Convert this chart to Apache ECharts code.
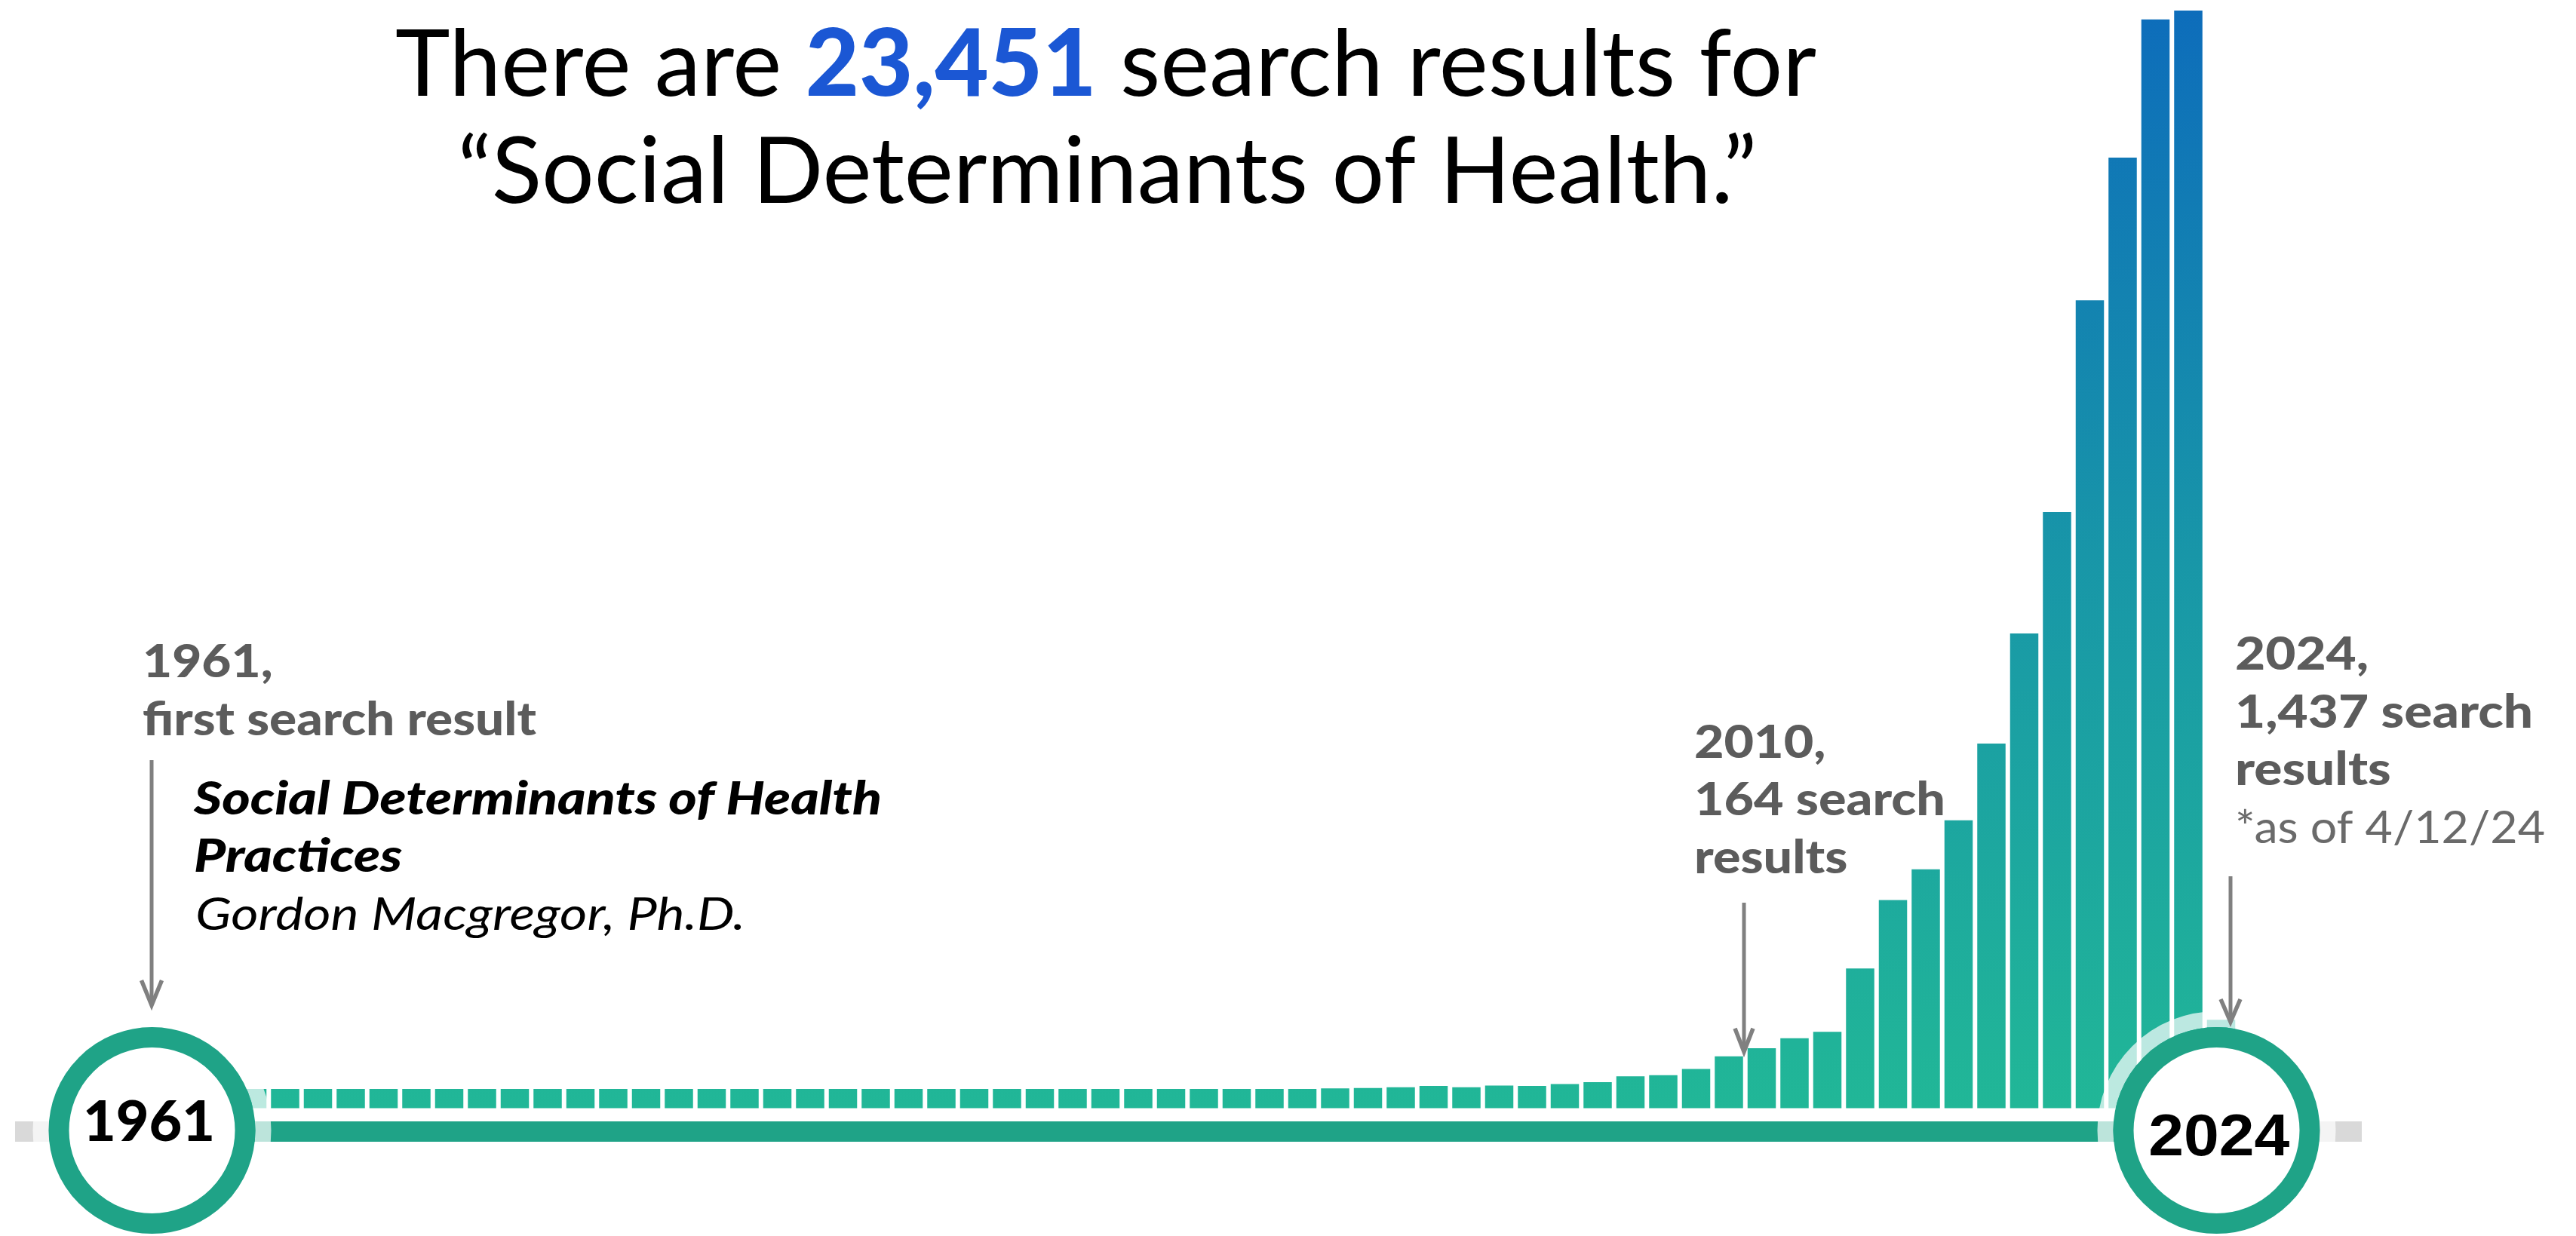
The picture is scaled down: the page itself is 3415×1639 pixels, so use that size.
<!DOCTYPE html>
<html>
<head>
<meta charset="utf-8">
<script src="https://cdn.jsdelivr.net/npm/echarts@6/dist/echarts.min.js"></script>
<style>
html,body{margin:0;padding:0;background:#ffffff;}
#c{width:3415px;height:1639px;}
</style>
</head>
<body>
<div id="c"></div>
<script>
// ---------- data ----------
const YEARS = ['1961','1962','1963','1964','1965','1966','1967','1968','1969','1970',
  '1971','1972','1973','1974','1975','1976','1977','1978','1979','1980',
  '1981','1982','1983','1984','1985','1986','1987','1988','1989','1990',
  '1991','1992','1993','1994','1995','1996','1997','1998','1999','2000',
  '2001','2002','2003','2004','2005','2006','2007','2008','2009','2010',
  '2011','2012','2013','2014','2015','2016','2017','2018','2019','2020',
  '2021','2022','2023','2024'];
// search results per year (2010 = 164)
const RESULTS = [1,1,1,2,1,2,2,3,2,3,
  3,4,4,5,4,6,7,8,8,10,
  11,12,12,14,16,18,19,22,24,27,
  30,32,36,40,44,48,54,55,57,61,
  57,62,61,66,71,87,90,107,142,164,
  191,209,382,569,653,787,997,1298,1630,2209,
  2599,2977,3001,242];
const TOTAL_LABEL = '23,451';
const FIRST_YEAR_LABEL = ['1961,', 'first search result'];
const FIRST_PAPER = ['Social Determinants of Health', 'Practices', 'Gordon Macgregor, Ph.D.'];
const NOTE_2010 = ['2010,', '164 search', 'results'];
const NOTE_2024 = ['2024,', '1,437 search', 'results'];
const NOTE_DATE = '*as of 4/12/24';

// ---------- styles ----------
const TEAL = '#1FA387';
const LABEL_GRAY = '#5C5C5C';
const ARROW_GRAY = '#808080';

const chart = echarts.init(document.getElementById('c'), null, {renderer: 'canvas'});
chart.setOption({
  animation: false,
  grid: {left: 182.25, right: 448.75, top: 0, bottom: 169.5},
  xAxis: {type: 'category', data: YEARS, show: false},
  yAxis: {type: 'value', min: 0, max: 3030, show: false, splitLine: {show: false}},
  series: [{
    type: 'bar',
    data: RESULTS,
    barWidth: 37.5,
    barMinHeight: 25.5,
    silent: true,
    itemStyle: {
      color: new echarts.graphic.LinearGradient(0, 0, 0, 1470, [
        {offset: 0, color: '#0D6CBB'},
        {offset: 0.5, color: '#1896A8'},
        {offset: 1, color: '#21B797'}
      ], true)
    }
  }]
});

// ---------- annotation layer ----------
const mctx = document.createElement('canvas').getContext('2d');
function tw(font, s) { mctx.font = font; return mctx.measureText(s).width; }
function txt(s, font, fill, x, mid, sx, align) {
  return {type: 'text', x: x, y: mid, scaleX: sx, z: 8, silent: true,
    style: {text: s, font: font, fill: fill, textAlign: align || 'left', textVerticalAlign: 'middle'}};
}
function arrow(x, y0, tip, hw, hh) {
  const v = tip - 7;
  return [
    {type: 'line', z: 8, silent: true, shape: {x1: x, y1: y0, x2: x, y2: v - 2}, style: {stroke: ARROW_GRAY, lineWidth: 5}},
    {type: 'polyline', z: 8, silent: true, shape: {points: [[x - hw, v - hh], [x, v], [x + hw, v - hh]]},
      style: {stroke: ARROW_GRAY, lineWidth: 5.5, fill: null, lineJoin: 'miter', miterLimit: 10}}
  ];
}

const cx1 = chart.convertToPixel({xAxisIndex: 0}, YEARS[0]) - 2.5;
const cx2 = chart.convertToPixel({xAxisIndex: 0}, YEARS[YEARS.length - 1]) - 6;
const CY = 1499;

const els = [];
// timeline
els.push({type: 'rect', z: 1, silent: true, shape: {x: 20, y: 1487, width: 3111, height: 27}, style: {fill: '#D9D9D9'}});
els.push({type: 'rect', z: 1, silent: true, shape: {x: cx1, y: 1487, width: cx2 - cx1, height: 27}, style: {fill: TEAL}});
// circles
[cx1, cx2].forEach(function (cx) {
  els.push({type: 'circle', z: 5, silent: true, shape: {cx: cx, cy: CY, r: 147.5},
    style: {fill: null, stroke: 'rgba(255,255,255,0.7)', lineWidth: 21}});
  els.push({type: 'circle', z: 6, silent: true, shape: {cx: cx, cy: CY, r: 123.5},
    style: {fill: '#ffffff', stroke: TEAL, lineWidth: 27}});
});
const fY1 = '900 75px Lato';
els.push(txt(YEARS[0], fY1, '#000000', 197.5, 1489, 175 / tw(fY1, YEARS[0]), 'center'));
const fY2 = '700 78px "Liberation Sans", Arial, sans-serif';
els.push(txt(YEARS[YEARS.length - 1], fY2, '#000000', 2941.7, 1510.5, 187 / tw(fY2, YEARS[YEARS.length - 1]), 'center'));

// title
const fN = '400 123px Lato', fB = '900 123px Lato';
const t1a = 'There are ', t1c = ' search results for';
const titleW = tw(fN, t1a) + tw(fB, TOTAL_LABEL) + tw(fN, t1c);
const tsx = 1884 / titleW;
els.push({type: 'text', x: 1466, y: 87, scaleX: tsx, z: 8, silent: true,
  style: {text: '{n|' + t1a + '}{b|' + TOTAL_LABEL + '}{n|' + t1c + '}', textAlign: 'center', textVerticalAlign: 'middle',
    rich: {n: {font: fN, fill: '#000000'}, b: {font: fB, fill: '#1B57D4'}}}});
els.push(txt('\u201CSocial Determinants of Health.\u201D', fN, '#000000', 1468, 229.5, tsx, 'center'));

// 1961 block
const fL = '900 60px Lato';
const s61 = 522 / tw(fL, FIRST_YEAR_LABEL[1]);
els.push(txt(FIRST_YEAR_LABEL[0], fL, LABEL_GRAY, 189, 878.5, s61));
els.push(txt(FIRST_YEAR_LABEL[1], fL, LABEL_GRAY, 189, 955.5, s61));
const fBI = 'italic 900 61px Lato';
const sBI = 912 / tw(fBI, FIRST_PAPER[0]);
els.push(txt(FIRST_PAPER[0], fBI, '#000000', 257, 1060, sBI));
els.push(txt(FIRST_PAPER[1], fBI, '#000000', 257, 1136, sBI));
const fI = 'italic 400 61px Lato';
els.push(txt(FIRST_PAPER[2], fI, '#000000', 259, 1213, 729 / tw(fI, FIRST_PAPER[2])));

// 2010 block
const s10 = 333 / tw(fL, NOTE_2010[1]);
els.push(txt(NOTE_2010[0], fL, LABEL_GRAY, 2246, 985.5, s10));
els.push(txt(NOTE_2010[1], fL, LABEL_GRAY, 2246, 1061.5, s10));
els.push(txt(NOTE_2010[2], fL, LABEL_GRAY, 2246, 1138.5, s10));

// 2024 block
const s24 = 395 / tw(fL, NOTE_2024[1]);
els.push(txt(NOTE_2024[0], fL, LABEL_GRAY, 2963, 868.5, s24));
els.push(txt(NOTE_2024[1], fL, LABEL_GRAY, 2963, 945.5, s24));
els.push(txt(NOTE_2024[2], fL, LABEL_GRAY, 2963, 1021.5, s24));
const fR = '400 60px Lato';
els.push(txt(NOTE_DATE, fR, '#6A6A6A', 2963, 1098.5, 411 / tw(fR, NOTE_DATE)));

// arrows
arrow(201, 1008, 1340, 13.5, 33).forEach(function (e) { els.push(e); });
arrow(2312, 1197, 1401.7, 12, 31).forEach(function (e) { els.push(e); });
arrow(2957, 1162, 1362, 13, 30).forEach(function (e) { els.push(e); });

chart.setOption({graphic: {elements: els}});
</script>
</body>
</html>
